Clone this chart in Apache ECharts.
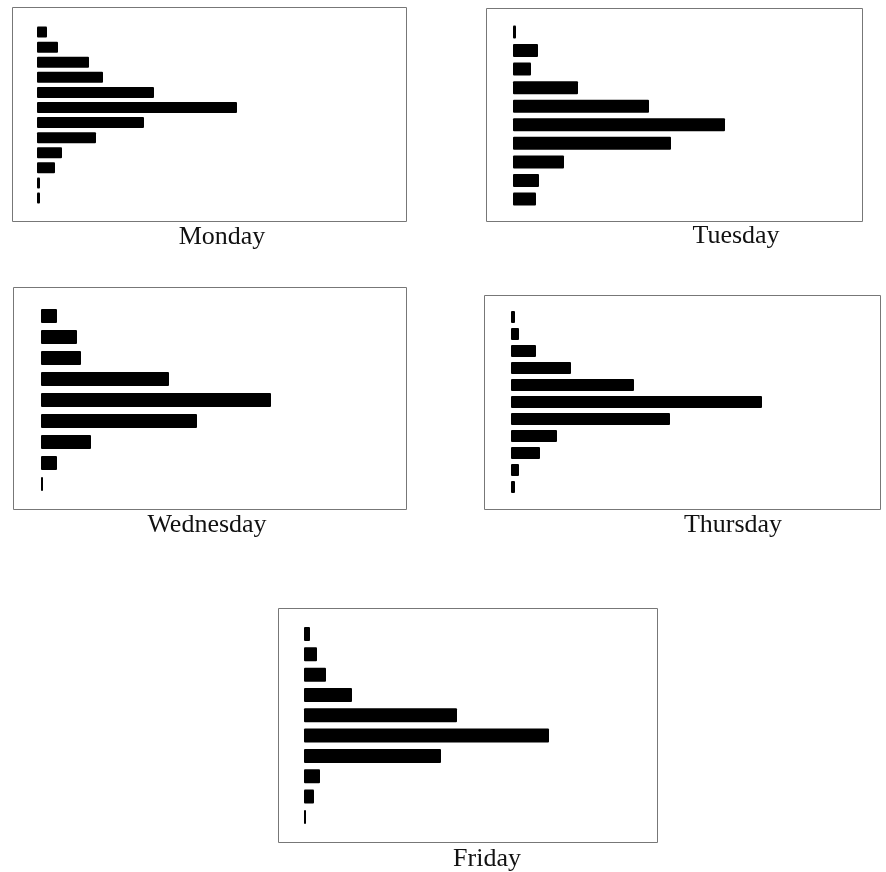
<!DOCTYPE html>
<html>
<head>
<meta charset="utf-8">
<script src="https://cdn.jsdelivr.net/npm/echarts@6/dist/echarts.min.js"></script>
<style>
html,body{margin:0;padding:0;background:#fff;}
#c{width:886px;height:872px;}
</style>
</head>
<body>
<div id="c"></div>
<script>
// Panel names
const dayNames = ['Monday', 'Tuesday', 'Wednesday', 'Thursday', 'Friday'];

// Bar lengths (arbitrary units, top bar first)
const mondayValues    = [10, 21, 52, 66, 117, 200, 107, 59, 25, 18, 3, 3];
const tuesdayValues   = [3, 25, 18, 65, 136, 212, 158, 51, 26, 23];
const wednesdayValues = [16, 36, 40, 128, 230, 156, 50, 16, 2];
const thursdayValues  = [4, 8, 25, 60, 123, 251, 159, 46, 29, 8, 4];
const fridayValues    = [6, 13, 22, 48, 153, 245, 137, 16, 10, 2];

const allValues = [mondayValues, tuesdayValues, wednesdayValues, thursdayValues, fridayValues];

// Layout of each panel: frame [left, top, width, height], bar area [left, top, height], bar thickness, label centre
const layouts = [
  { frame: [12.5, 7.5, 394, 214],  bars: [37, 24.5, 181],   bw: 11, label: [222, 237] },
  { frame: [486.5, 8.5, 376, 213], bars: [513, 22.7, 185.6], bw: 13, label: [736, 236] },
  { frame: [13.5, 287.5, 393, 222], bars: [41, 305.5, 189],  bw: 14, label: [207, 525] },
  { frame: [484.5, 295.5, 396, 214], bars: [511, 308.5, 187], bw: 12, label: [733, 525] },
  { frame: [278.5, 608.5, 379, 234], bars: [304, 623.8, 203.3], bw: 14, label: [487, 859] }
];

const grids = [], xAxes = [], yAxes = [], series = [], graphics = [];

layouts.forEach((L, i) => {
  const vals = allValues[i];
  const cats = vals.map((_, k) => String(k + 1));
  const frameRight = L.frame[0] + L.frame[2];
  const barWidthPx = frameRight - L.bars[0];

  // frame grid
  const fg = grids.length;
  grids.push({
    left: L.frame[0], top: L.frame[1], width: L.frame[2], height: L.frame[3],
    show: true, borderColor: '#777', borderWidth: 1, backgroundColor: 'transparent'
  });
  xAxes.push({ gridIndex: fg, type: 'value', show: false });
  yAxes.push({ gridIndex: fg, type: 'value', show: false });

  // bar grid
  const bg = grids.length;
  grids.push({
    left: L.bars[0], top: L.bars[1], width: barWidthPx, height: L.bars[2], show: false
  });
  const xi = xAxes.length;
  xAxes.push({ gridIndex: bg, type: 'value', min: 0, max: barWidthPx, show: false });
  const yi = yAxes.length;
  yAxes.push({ gridIndex: bg, type: 'category', data: cats, inverse: true, show: false });

  series.push({
    type: 'bar',
    name: dayNames[i],
    xAxisIndex: xi,
    yAxisIndex: yi,
    data: vals,
    barWidth: L.bw,
    itemStyle: { color: '#000', borderRadius: 1 },
    silent: true,
    animation: false
  });

  graphics.push({
    type: 'text',
    x: L.label[0],
    y: L.label[1],
    style: {
      text: dayNames[i],
      fill: '#111',
      font: '26px "Liberation Serif", "Times New Roman", serif',
      textAlign: 'center',
      textVerticalAlign: 'middle'
    }
  });
});

const chart = echarts.init(document.getElementById('c'), null, { renderer: 'canvas' });
chart.setOption({
  animation: false,
  backgroundColor: '#fff',
  grid: grids,
  xAxis: xAxes,
  yAxis: yAxes,
  series: series,
  graphic: graphics
});
</script>
</body>
</html>
